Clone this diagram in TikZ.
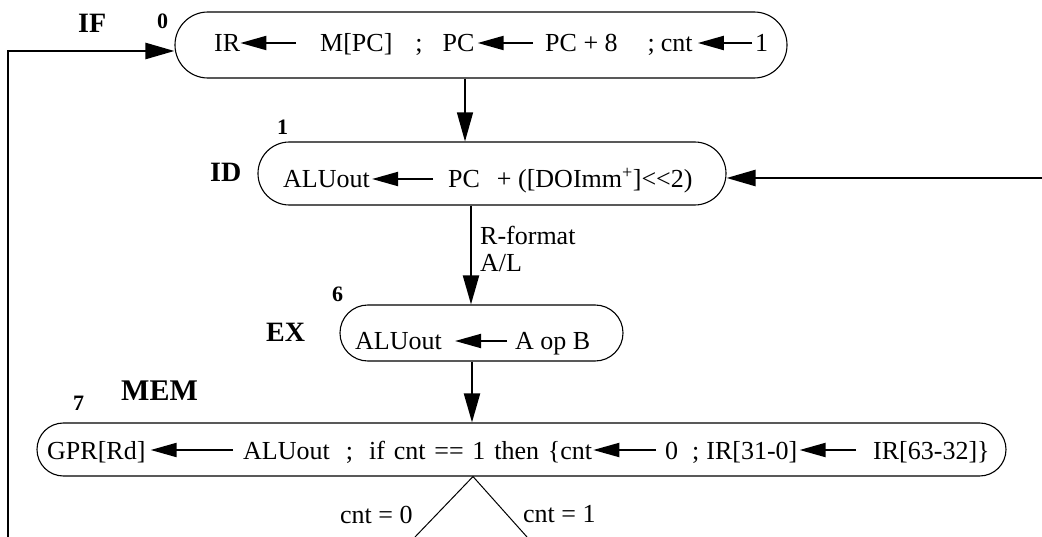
\documentclass[tikz,border=0pt]{standalone}
\usepackage{fontspec}
\setmainfont{Liberation Serif}
\usetikzlibrary{arrows.meta}
\begin{document}
\begin{tikzpicture}[x=1pt,y=-1pt,
  box/.style={draw,line width=1.1pt,inner sep=0pt,rectangle},
  txt/.style={anchor=base west,inner sep=0pt,font=\fontsize{26}{30}\selectfont},
  stg/.style={anchor=base west,inner sep=0pt,font=\fontsize{28}{32}\selectfont\bfseries},
  num/.style={anchor=base west,inner sep=0pt,font=\fontsize{22}{26}\selectfont\bfseries},
  inarr/.style={line width=2pt,-{Triangle[length=26pt,width=14pt]}},
  conn/.style={-{Triangle[length=29pt,width=16pt]}},
]
\useasboundingbox (0,0) rectangle (1042,537);

% state boxes
\node[box,minimum width=612pt,minimum height=66pt,rounded corners=32.9pt] (s0) at (481,45) {};
\node[box,minimum width=468pt,minimum height=63pt,rounded corners=31.4pt] (s1) at (492,173.5) {};
\node[box,minimum width=283pt,minimum height=56pt,rounded corners=27.9pt] (s6) at (481.5,333) {};
\node[box,minimum width=969pt,minimum height=53pt,rounded corners=26.4pt] (s7) at (521.5,449.5) {};

% texts in IF box
\node[txt] (t0a) at (214,52) {IR};
\node[txt] (t0b) at (320,52) {M[PC]\hspace{23pt};\hspace{20pt}PC};
\node[txt] (t0c) at (545,52) {PC + 8\hspace{30pt};\hspace{6pt}cnt};
\node[txt] (t0d) at (755,52) {1};
\draw[inarr,shorten <=24pt] ([yshift=9pt]t0b.base west) -- ([yshift=9pt]t0a.base east);
\draw[inarr,shorten <=12pt,shorten >=3pt] ([yshift=9pt]t0c.base west) -- ([yshift=9pt]t0b.base east);
\draw[inarr,shorten <=3pt,shorten >=5pt] ([yshift=9pt]t0d.base west) -- ([yshift=9pt]t0c.base east);

% texts in ID box
\node[txt] (t1a) at (283,188) {ALUout};
\node[txt] (t1b) at (448,188) {PC\hspace{17pt}+ ([DOImm\textsuperscript{+}]\textless\kern0pt\textless 2)};
\draw[inarr,shorten <=15pt,shorten >=2pt] ([yshift=9pt]t1b.base west) -- ([yshift=9pt]t1a.base east);

% texts in EX box
\node[txt] (t6a) at (355,350) {ALUout};
\node[txt] (t6b) at (515,350) {A op B};
\draw[inarr,shorten <=8pt,shorten >=13pt] ([yshift=9pt]t6b.base west) -- ([yshift=9pt]t6a.base east);

% texts in MEM box
\node[txt] (t7a) at (47,459) {GPR[Rd]};
\node[txt] (t7b) at (243,459) {ALUout\hspace{16pt};\hspace{16pt}\makebox[223pt][s]{if cnt == 1 then \{cnt}};
\node[txt] (t7c) at (665,459) {0\hspace{14pt};\hspace{7pt}IR[31-0]};
\node[txt] (t7d) at (873,459) {IR[63-32]\}};
\draw[inarr,shorten <=10pt,shorten >=5pt] ([yshift=9pt]t7b.base west) -- ([yshift=9pt]t7a.base east);
\draw[inarr,shorten <=9pt,shorten >=1pt] ([yshift=9pt]t7c.base west) -- ([yshift=9pt]t7b.base east);
\draw[inarr,shorten <=17pt,shorten >=2pt] ([yshift=9pt]t7d.base west) -- ([yshift=9pt]t7c.base east);

% stage labels and state numbers
\node[stg] (lIF) at (78,33) {IF};
\node[num] (n0) at (157,29) {0};
\node[num] (n1) at (277,135) {1};
\node[stg] (lID) at (210,182) {ID};
\node[num] (n6) at (332,302) {6};
\node[stg] (lEX) at (266,342) {EX};
\node[num] (n7) at (73,410) {7};
\node[stg,font=\fontsize{30}{34}\selectfont\bfseries] (lMEM) at (121,400) {MEM};

% edge labels
\node[txt] (lR) at (480,245) {R-format};
\node[txt] (lAL) at (480,272) {A/L};
\node[txt] (lc0) at (340,523) {cnt = 0};
\node[txt] (lc1) at (523,522) {cnt = 1};

% connectors
\coordinate (fb) at (8,537);
\coordinate (x465) at (465,0);
\coordinate (x471) at (471,0);
\coordinate (x472) at (472,0);
\coordinate (x473) at (473,0);
\coordinate (idin) at (1042,178);
\coordinate (c0) at (415,537);
\coordinate (c1) at (527,537);

\draw[line width=2.5pt,conn] (fb) |- ([yshift=-6pt]s0.west);
\draw[line width=1.3pt,conn] (s0.south -| x465) -- (s1.north -| x465);
\draw[line width=2pt,conn] (s1.south -| x471) -- (s6.north -| x471);
\draw[line width=2pt,conn] (s6.south -| x472) -- (s7.north -| x472);
\draw[line width=2.5pt,conn] (idin) -- (s1.east |- idin);
\draw[line width=1pt] (c0) -- (s7.south -| x473) -- (c1);
\end{tikzpicture}
\end{document}
